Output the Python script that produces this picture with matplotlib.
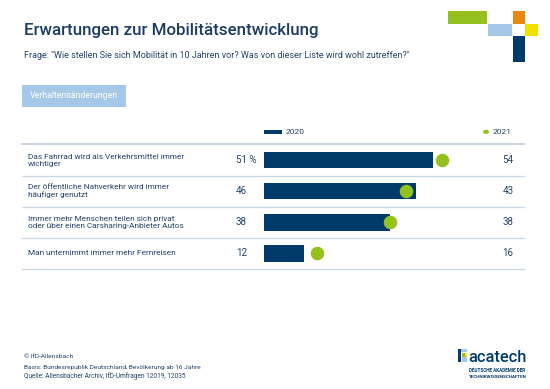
import matplotlib
matplotlib.use("Agg")
import matplotlib.pyplot as plt
from matplotlib.patches import Rectangle

BODY = ['Roboto', 'DejaVu Sans']
plt.rcParams['font.family'] = BODY

title = "Erwartungen zur Mobilitätsentwicklung"
subtitle = 'Frage: "Wie stellen Sie sich Mobilität in 10 Jahren vor? Was von dieser Liste wird wohl zutreffen?"'
section = "Verhaltensänderungen"
categories = [
    "Das Fahrrad wird als Verkehrsmittel immer\nwichtiger",
    "Der öffentliche Nahverkehr wird immer\nhäufiger genutzt",
    "Immer mehr Menschen teilen sich privat\noder über einen Carsharing-Anbieter Autos",
    "Man unternimmt immer mehr Fernreisen",
]
values_2020 = [51, 46, 38, 12]
values_2021 = [54, 43, 38, 16]
series_names = ["2020", "2021"]
footer = ["© IfD-Allensbach",
          "Basis: Bundesrepublik Deutschland, Bevölkerung ab 16 Jahre",
          "Quelle: Allensbacher Archiv, IfD-Umfragen 12019, 12035"]

NAVY = "#003a6a"
GREEN = "#95c11f"
LBLUE = "#a5c8e8"
ORANGE = "#e8860f"
YELLOW = "#f2e200"
TITLE_C = "#1c3c63"
TEXT_C = "#24446a"
LINE_C = "#c9d6e3"

W, H = 550, 389
fig = plt.figure(figsize=(W / 100, H / 100), dpi=100)
fig.patch.set_facecolor("white")


def fx(px):
    return px / W


def fy(py):
    return 1 - py / H


renderer = fig.canvas.get_renderer()


def fit(t, width_px):
    bb = t.get_window_extent(renderer=renderer)
    t.set_fontsize(t.get_fontsize() * width_px / bb.width)


def frect(x0, y0, x1, y1, c):
    fig.patches.append(Rectangle((fx(x0), fy(y1)), fx(x1) - fx(x0), fy(y0) - fy(y1),
                                 transform=fig.transFigure, facecolor=c, edgecolor="none"))


# Decorative squares (top right)
frect(448, 11, 487, 24, GREEN)
frect(513, 11, 525, 24, ORANGE)
frect(488, 24, 512, 36, LBLUE)
frect(525, 24, 538, 36, YELLOW)
frect(513, 36, 525, 62, NAVY)

# Title and subtitle
t = fig.text(fx(23.5), fy(31), title, color=TITLE_C, fontsize=12, va="center", ha="left",
             fontweight=500)
fit(t, 295)
t = fig.text(fx(23.5), fy(55.4), subtitle, color=TEXT_C, fontsize=6.5, va="center", ha="left")
fit(t, 382)

# Section box
frect(22, 85, 126, 107, LBLUE)
t = fig.text(fx(74), fy(96), section, color="white", fontsize=6.5, va="center", ha="center")
fit(t, 88)

# Axes for bars
x0_px, x1_px, y0_px, y1_px = 22, 524, 144.5, 269
scale = 3.304
xmin = -(264 - x0_px) / scale
xmax = xmin + (x1_px - x0_px) / scale
ax = fig.add_axes([fx(x0_px), fy(y1_px), fx(x1_px) - fx(x0_px), (y1_px - y0_px) / H])
ax.set_xlim(xmin, xmax)
n = len(categories)
ax.set_ylim(n - 0.5, -0.5)
ax.axis("off")

ys = list(range(n))
ax.barh(ys, values_2020, height=0.53, color=NAVY, left=0, zorder=2)
ax.scatter(values_2021, ys, s=95, color=GREEN, zorder=3, linewidths=0)

# row separators
ax.axhline(-0.5, color=LINE_C, lw=1.4, zorder=1, clip_on=False)
for i in range(n):
    ax.axhline(i + 0.5, color=LINE_C, lw=0.9, zorder=1, clip_on=False)

tr = ax.get_yaxis_transform()
axw = x1_px - x0_px
label_texts = []
for i, (lab, v20, v21) in enumerate(zip(categories, values_2020, values_2021)):
    lt = ax.text((28 - x0_px) / axw, i, lab, transform=tr, va="center", ha="left",
                 color=TEXT_C, fontsize=6.5, linespacing=1.2)
    label_texts.append(lt)
    lab20 = f"{v20} %" if i == 0 else f"{v20}"
    ax.text((235.7 - x0_px) / axw, i, lab20, transform=tr, va="center", ha="left",
            color=TEXT_C, fontsize=7)
    ax.text((502.3 - x0_px) / axw, i, f"{v21}", transform=tr, va="center", ha="left",
            color=TEXT_C, fontsize=7)
fit(label_texts[0], 156)
for lt in label_texts[1:]:
    lt.set_fontsize(label_texts[0].get_fontsize())

# Legend
frect(264, 129.6, 281.6, 134, NAVY)
fig.text(fx(286), fy(131.8), series_names[0], color=TEXT_C, fontsize=6, va="center", ha="left")
fig.patches.append(plt.Circle((fx(486), fy(131.8)), 3.0 / W, transform=fig.transFigure,
                              facecolor=GREEN, edgecolor="none"))
fig.text(fx(493), fy(131.8), series_names[1], color=TEXT_C, fontsize=6, va="center", ha="left")

# Footer
t = fig.text(fx(23.5), fy(356.3), footer[0], color=TEXT_C, fontsize=4.6, va="center", ha="left")
fit(t, 48.5)
t = fig.text(fx(23.5), fy(367.9), footer[1], color=TEXT_C, fontsize=4.6, va="center", ha="left")
fit(t, 173.5)
t = fig.text(fx(23.5), fy(376), footer[2], color=TEXT_C, fontsize=4.6, va="center", ha="left")
fit(t, 162.5)

# acatech logo
frect(457.7, 349, 460.5, 362, NAVY)
frect(460.5, 349, 466.5, 352, LBLUE)
frect(461.5, 353, 464.5, 357, GREEN)
frect(464.5, 353, 466.5, 357, YELLOW)
frect(461.5, 357, 466.5, 362, LBLUE)
t = fig.text(fx(468), fy(362), "acatech", color=NAVY, fontsize=12, va="baseline", ha="left",
             fontweight=500)
fit(t, 58)
t = fig.text(fx(469), fy(370.7), "DEUTSCHE AKADEMIE DER", color=NAVY, fontsize=3, va="center",
             ha="left", fontweight="bold")
fit(t, 56.5)
t = fig.text(fx(469), fy(376.6), "TECHNIKWISSENSCHAFTEN", color=NAVY, fontsize=3, va="center",
             ha="left", fontweight="bold")
fit(t, 56.5)

fig.savefig("out.png", dpi=100, facecolor="white")
